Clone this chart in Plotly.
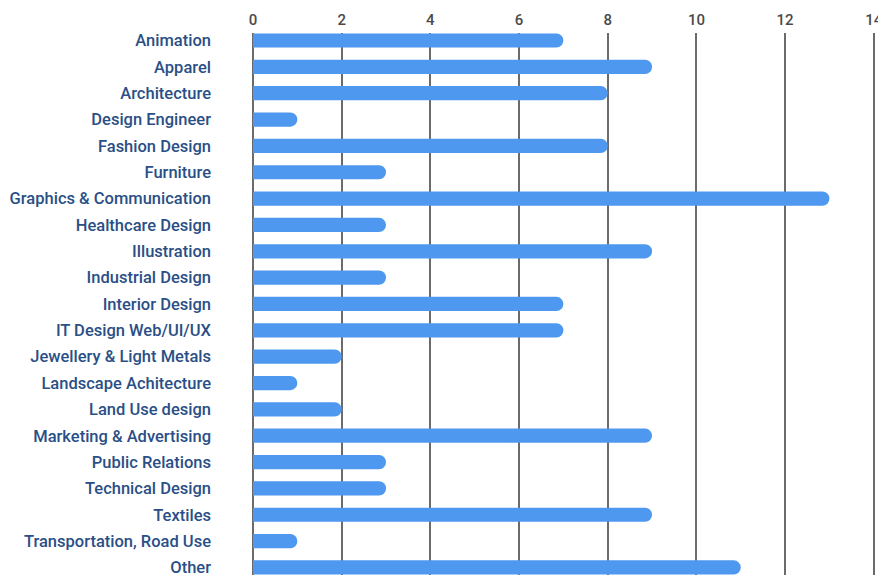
import plotly.graph_objects as go

categories = ["Animation", "Apparel", "Architecture", "Design Engineer", "Fashion Design",
              "Furniture", "Graphics & Communication", "Healthcare Design", "Illustration",
              "Industrial Design", "Interior Design", "IT Design Web/UI/UX",
              "Jewellery & Light Metals", "Landscape Achitecture", "Land Use design",
              "Marketing & Advertising", "Public Relations", "Technical Design", "Textiles",
              "Transportation, Road Use", "Other"]
values = [7, 9, 8, 1, 8, 3, 13, 3, 9, 3, 7, 7, 2, 1, 2, 9, 3, 3, 9, 1, 11]
tick_vals = [0, 2, 4, 6, 8, 10, 12, 14]

fig = go.Figure(go.Bar(
    y=categories, x=values, orientation="h",
    marker=dict(color="#4f98f0", cornerradius=7, line=dict(width=0)),
    width=0.54,
))

fig.update_layout(
    width=886, height=575,
    margin=dict(l=245, r=18, t=25, b=0, autoexpand=False),
    paper_bgcolor="white", plot_bgcolor="white",
    font=dict(family="Roboto", size=16, color="#2a4f86"),
    showlegend=False,
    xaxis=dict(side="top", range=[0, 14.05], tickvals=tick_vals, automargin=False,
               showgrid=True, gridcolor="#6b6b6b", gridwidth=2,
               zeroline=True, zerolinecolor="#6b6b6b", zerolinewidth=2,
               showline=False, ticks="", ticklabelstandoff=4,
               tickfont=dict(family="Roboto", size=15, color="#4a4a4a", weight=500)),
    yaxis=dict(autorange=False, range=[20.59, -0.285], type="category", automargin=False,
               showgrid=False, zeroline=False, showline=False, ticks="",
               ticklabelstandoff=41,
               tickfont=dict(family="Roboto", size=16.5, color="#2a4f86", weight=500)),
)

fig.write_html("out.html")
